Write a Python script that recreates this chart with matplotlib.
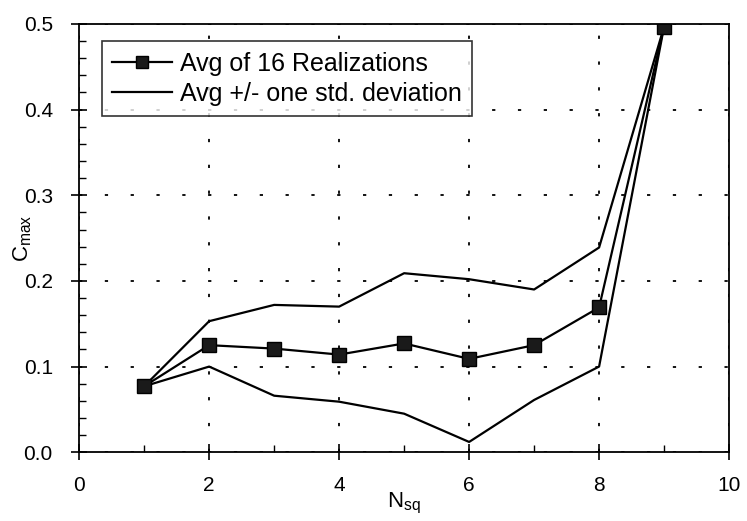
import matplotlib
matplotlib.use("Agg")
import matplotlib.pyplot as plt
from matplotlib.ticker import MultipleLocator, FormatStrFormatter

plt.rcParams['font.family'] = ['Liberation Sans', 'DejaVu Sans']

n_sq = [1, 2, 3, 4, 5, 6, 7, 8, 9]
avg = [0.077, 0.125, 0.121, 0.114, 0.127, 0.109, 0.125, 0.169, 0.497]
upper = [0.077, 0.153, 0.172, 0.170, 0.209, 0.202, 0.190, 0.239, 0.497]
lower = [0.077, 0.100, 0.066, 0.059, 0.045, 0.012, 0.061, 0.100, 0.497]

fig = plt.figure(figsize=(7.47, 5.21), dpi=100)
ax = fig.add_axes([0.106, 0.132, 0.870, 0.822])

ax.plot(n_sq, upper, color='black', lw=1.6, label='Avg +/- one std. deviation')
ax.plot(n_sq, lower, color='black', lw=1.6)
ax.plot(n_sq, avg, color='black', lw=1.6, marker='s', markersize=10,
        markerfacecolor='#1a1a1a', markeredgecolor='black',
        label='Avg of 16 Realizations')

ax.set_xlim(0, 10)
ax.set_ylim(0, 0.5)
ax.xaxis.set_major_locator(MultipleLocator(2))
ax.xaxis.set_minor_locator(MultipleLocator(1))
ax.yaxis.set_major_locator(MultipleLocator(0.1))
ax.yaxis.set_minor_locator(MultipleLocator(0.02))
ax.yaxis.set_major_formatter(FormatStrFormatter('%.1f'))

ax.tick_params(which='major', direction='inout', length=12, width=1.2,
               labelsize=15)
ax.tick_params(axis='x', which='major', pad=11)
ax.tick_params(axis='y', which='major', pad=13)
ax.tick_params(which='minor', direction='in', length=5, width=1)
ax.tick_params(axis='both', top=False, right=False)

ax.grid(True, which='major', color='black', linestyle=(0, (1.8, 12.5)), lw=1.3)

for s in ax.spines.values():
    s.set_linewidth(1.3)

ax.set_xlabel(r'N$_{\mathregular{sq}}$', fontsize=16)
ax.set_ylabel(r'C$_{\mathregular{max}}$', fontsize=16)
ax.xaxis.set_label_coords(0.5, -0.09)
ax.yaxis.set_label_coords(-0.069, 0.5)

h, l = ax.get_legend_handles_labels()
leg = ax.legend([h[1], h[0]], [l[1], l[0]], loc='upper left',
                bbox_to_anchor=(0.035, 0.96), fontsize=18, frameon=True,
                fancybox=False, edgecolor='black', handlelength=2.4,
                handletextpad=0.3, borderpad=0.42, labelspacing=0.25,
                borderaxespad=0, markerscale=0.8)
leg.get_frame().set_linewidth(1.2)

fig.savefig('out.png', dpi=100)
